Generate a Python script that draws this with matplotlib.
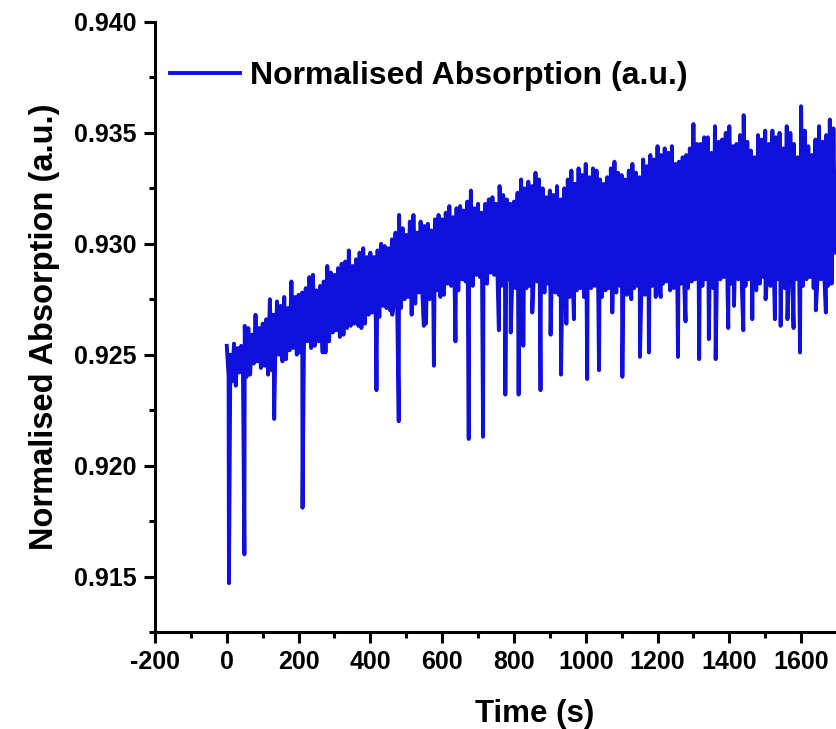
import numpy as np
import matplotlib.pyplot as plt
from matplotlib.ticker import MultipleLocator, FormatStrFormatter

plt.rcParams['font.family'] = ['Liberation Sans', 'DejaVu Sans']
plt.rcParams['font.weight'] = 'bold'
plt.rcParams['axes.unicode_minus'] = False

# band top, read every 20 s (t = 0 ... 1680)
t_upper = np.arange(0, 1681, 20)
upper = [
    0.9254, 0.9255, 0.9254, 0.9262, 0.9268, 0.9264, 0.9275, 0.9274, 0.9276, 0.9283,
    0.9277, 0.9280, 0.9286, 0.9281, 0.9290, 0.9286, 0.9291, 0.9297, 0.9293, 0.9298,
    0.9296, 0.9297, 0.9299, 0.9302, 0.9313, 0.9304, 0.9313, 0.9310, 0.9309, 0.9311,
    0.9311, 0.9317, 0.9316, 0.9315, 0.9324, 0.9318, 0.9318, 0.9321, 0.9326, 0.9320,
    0.9319, 0.9329, 0.9328, 0.9332, 0.9325, 0.9324, 0.9326, 0.9325, 0.9333, 0.9334,
    0.9336, 0.9334, 0.9329, 0.9330, 0.9337, 0.9331, 0.9333, 0.9332, 0.9338, 0.9340,
    0.9344, 0.9343, 0.9344, 0.9337, 0.9340, 0.9354, 0.9345, 0.9348, 0.9353, 0.9347,
    0.9353, 0.9345, 0.9358, 0.9342, 0.9349, 0.9351, 0.9351, 0.9350, 0.9353, 0.9345,
    0.9362, 0.9344, 0.9347, 0.9346, 0.9356,
]

# band top, second reading (t = 10 ... 1690)
t_upper_b = np.arange(10, 1691, 20)
upper_b = [
    0.9250, 0.9253, 0.9263, 0.9259, 0.9262, 0.9266, 0.9268, 0.9272, 0.9271, 0.9276,
    0.9278, 0.9285, 0.9279, 0.9283, 0.9287, 0.9289, 0.9292, 0.9290, 0.9296, 0.9294,
    0.9294, 0.9300, 0.9298, 0.9305, 0.9307, 0.9310, 0.9305, 0.9308, 0.9306, 0.9313,
    0.9314, 0.9312, 0.9317, 0.9319, 0.9316, 0.9314, 0.9320, 0.9318, 0.9322, 0.9318,
    0.9323, 0.9325, 0.9326, 0.9329, 0.9321, 0.9322, 0.9320, 0.9329, 0.9327, 0.9331,
    0.9330, 0.9333, 0.9327, 0.9334, 0.9332, 0.9329, 0.9336, 0.9330, 0.9335, 0.9338,
    0.9340, 0.9341, 0.9336, 0.9339, 0.9343, 0.9345, 0.9348, 0.9341, 0.9346, 0.9350,
    0.9344, 0.9349, 0.9346, 0.9339, 0.9347, 0.9345, 0.9348, 0.9343, 0.9350, 0.9339,
    0.9351, 0.9340, 0.9353, 0.9349, 0.9352,
]

# band bottom (t = 15 ... 1695)
t_lower = np.arange(15, 1696, 20)
lower = [
    0.9238, 0.9242, 0.9240, 0.9246, 0.9244, 0.9241, 0.9249, 0.9247, 0.9252, 0.9250,
    0.9255, 0.9253, 0.9256, 0.9251, 0.9260, 0.9258, 0.9262, 0.9264, 0.9262, 0.9268,
    0.9266, 0.9272, 0.9270, 0.9268, 0.9275, 0.9268, 0.9278, 0.9264, 0.9280, 0.9276,
    0.9282, 0.9278, 0.9284, 0.9280, 0.9286, 0.9283, 0.9287, 0.9280, 0.9285, 0.9282,
    0.9286, 0.9280, 0.9284, 0.9279, 0.9282, 0.9278, 0.9282, 0.9276, 0.9279, 0.9276,
    0.9280, 0.9275, 0.9279, 0.9276, 0.9281, 0.9277, 0.9280, 0.9278, 0.9282, 0.9276,
    0.9282, 0.9279, 0.9283, 0.9278, 0.9283, 0.9279, 0.9284, 0.9280, 0.9284, 0.9279,
    0.9285, 0.9280, 0.9284, 0.9279, 0.9285, 0.9281, 0.9284, 0.9280, 0.9285, 0.9281,
    0.9284, 0.9280, 0.9284, 0.9281, 0.9296,
]

# band bottom, second reading (t = 5 ... 1685)
t_lower_b = np.arange(5, 1686, 20)
lower_b = [
    0.9240, 0.9236, 0.9243, 0.9241, 0.9247, 0.9245, 0.9243, 0.9250, 0.9248, 0.9253,
    0.9251, 0.9256, 0.9254, 0.9258, 0.9256, 0.9261, 0.9259, 0.9263, 0.9265, 0.9264,
    0.9269, 0.9267, 0.9271, 0.9273, 0.9271, 0.9276, 0.9273, 0.9277, 0.9275, 0.9279,
    0.9277, 0.9281, 0.9279, 0.9283, 0.9281, 0.9285, 0.9282, 0.9286, 0.9281, 0.9284,
    0.9280, 0.9285, 0.9281, 0.9283, 0.9278, 0.9283, 0.9277, 0.9281, 0.9278, 0.9280,
    0.9277, 0.9281, 0.9276, 0.9280, 0.9278, 0.9282, 0.9279, 0.9281, 0.9277, 0.9281,
    0.9279, 0.9283, 0.9280, 0.9282, 0.9280, 0.9284, 0.9281, 0.9283, 0.9281, 0.9285,
    0.9282, 0.9284, 0.9281, 0.9285, 0.9282, 0.9284, 0.9281, 0.9285, 0.9282, 0.9284,
    0.9281, 0.9285, 0.9282, 0.9284, 0.9282,
]

# downward spikes
spike_t = [6, 49, 132, 211, 267, 367, 417, 461, 479, 549, 577, 637, 674, 714, 758,
           776, 791, 813, 826, 851, 874, 902, 931, 946, 967, 1004, 1037, 1074, 1102,
           1127, 1151, 1176, 1209, 1257, 1278, 1316, 1343, 1362, 1397, 1413, 1439,
           1464, 1501, 1527, 1543, 1562, 1579, 1597, 1641, 1669]
spike_v = [0.9147, 0.9160, 0.9221, 0.9181, 0.9251, 0.9263, 0.9234, 0.9268, 0.9220,
           0.9263, 0.9245, 0.9256, 0.9212, 0.9213, 0.9261, 0.9232, 0.9260, 0.9232,
           0.9254, 0.9269, 0.9234, 0.9259, 0.9241, 0.9264, 0.9266, 0.9239, 0.9243,
           0.9269, 0.9240, 0.9275, 0.9249, 0.9251, 0.9276, 0.9249, 0.9265, 0.9248,
           0.9257, 0.9248, 0.9262, 0.9272, 0.9261, 0.9266, 0.9275, 0.9266, 0.9263,
           0.9266, 0.9262, 0.9251, 0.9270, 0.9269]

t = np.concatenate([t_upper, t_lower_b, t_upper_b, t_lower, spike_t])
v = np.concatenate([upper, lower_b, upper_b, lower, spike_v])
order = np.argsort(t, kind='stable')

fig = plt.figure(figsize=(8.37, 7.29), dpi=100)
ax = fig.add_axes([0.1852, 0.1331, 0.8148, 0.8368])
ax.plot(t[order], v[order], color='#1010dc', lw=2.8,
        label='Normalised Absorption (a.u.)')

ax.set_xlim(-200, 1700)
ax.set_ylim(0.9125, 0.940)
ax.spines['top'].set_visible(False)
ax.spines['right'].set_visible(False)
for s in ['left', 'bottom']:
    ax.spines[s].set_linewidth(2.2)

ax.xaxis.set_major_locator(MultipleLocator(200))
ax.xaxis.set_minor_locator(MultipleLocator(100))
ax.yaxis.set_major_locator(MultipleLocator(0.005))
ax.yaxis.set_minor_locator(MultipleLocator(0.0025))
ax.yaxis.set_major_formatter(FormatStrFormatter('%.3f'))
ax.tick_params(which='major', length=8, width=2.2, labelsize=18, pad=5)
ax.tick_params(which='minor', length=4, width=2.2)

ax.set_xlabel('Time (s)', fontsize=22.5, fontweight='bold')
ax.xaxis.set_label_coords(0.556, -0.11)
ax.set_ylabel('Normalised Absorption (a.u.)', fontsize=23.5, fontweight='bold', labelpad=10)

ax.legend(loc='center left', bbox_to_anchor=(0.022, 0.911), frameon=False,
          fontsize=23, handlelength=2.2, handletextpad=0.3,
          borderpad=0, borderaxespad=0)

fig.savefig('out.png', dpi=100)
